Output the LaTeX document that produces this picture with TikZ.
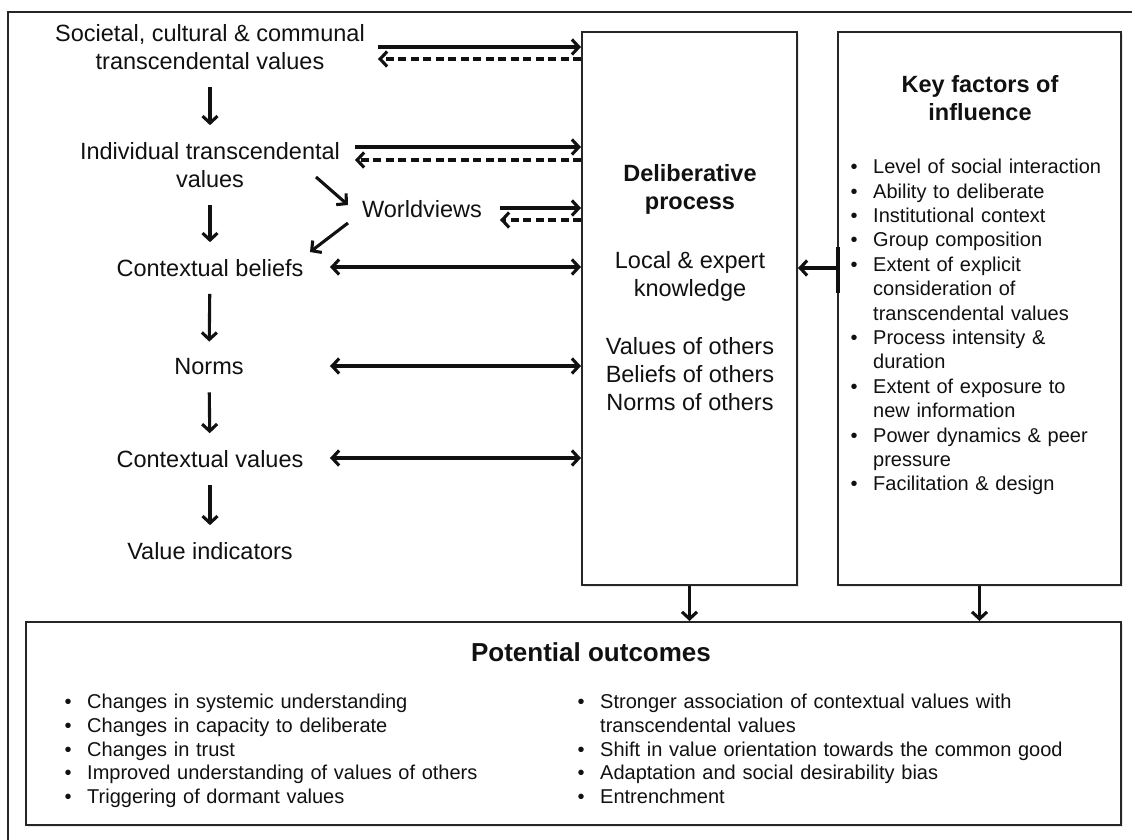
\documentclass[tikz,border=0pt]{standalone}
\usepackage{fontspec}
\setmainfont{Liberation Sans}
\usepackage{enumitem}
\usetikzlibrary{arrows.meta,shadows}

\setlist[itemize]{label=\textbullet, leftmargin=22pt, labelsep=15.5pt, itemsep=0pt, topsep=0pt, parsep=0pt, partopsep=0pt}

\definecolor{ink}{HTML}{111111}
\definecolor{edge}{HTML}{262626}

\newcommand{\bigtxt}{\fontsize{23.5}{28}\selectfont}
\newcommand{\keytxt}{\fontsize{20}{24.4}\selectfont}
\newcommand{\outtxt}{\fontsize{20}{23.6}\selectfont}

\tikzset{
  barb/.tip={Straight Barb[length=7pt,width=15pt]},
  box/.style={draw=edge, line width=2pt, fill=white, drop shadow={shadow xshift=2pt, shadow yshift=-2pt, opacity=0.18}},
  lbl/.style={font=\bigtxt, text=ink, align=center, inner sep=0pt},
  flow/.style={draw=ink, line width=3.1pt, -barb},
  twoway/.style={draw=ink, line width=3.1pt, barb-barb},
  feedback/.style={flow, dash pattern=on 8pt off 4.5pt},
  down/.style={flow, shorten <=17pt, shorten >=17pt},
  factors/.style={font=\keytxt, text=ink, align=left, inner sep=0pt, anchor=north west}
}

\begin{document}
\begin{tikzpicture}[x=1pt, y=-1pt]
\useasboundingbox (0,0) rectangle (1132,839);
\draw[draw=edge, line width=2pt, fill=white, drop shadow={shadow xshift=2pt, shadow yshift=-2pt, opacity=0.18}] (8,12) rectangle (1160,860);

% boxes
\node[box, minimum width=215pt, minimum height=553pt] (delib) at (689.5,308.5) {};
\node[box, minimum width=283pt, minimum height=553pt] (key) at (979.5,308.5) {};
\node[box, minimum width=1095pt, minimum height=203pt] (outc) at (573.5,723.5) {};

% left column
\node[lbl] (soc) at (210,47) {Societal, cultural \& communal\\transcendental values};
\node[lbl] (indiv) at (210,165) {Individual transcendental\\values};
\node[lbl] (world) at (422,209) {Worldviews};
\node[lbl] (cbel) at (210,268) {Contextual beliefs};
\node[lbl] (norms) at (209,367) {Norms};
\node[lbl] (cval) at (210,459) {Contextual values};
\node[lbl] (vind) at (210,551) {Value indicators};

\draw[down] (soc) -- (indiv);
\draw[down] (indiv) -- (cbel);
\draw[down] (cbel) -- (norms);
\draw[down] (norms) -- (cval);
\draw[down] (cval) -- (vind);

\coordinate (dgA) at (316,177);
\coordinate (dgB) at (348,205);
\coordinate (dgC) at (348,223);
\coordinate (dgD) at (310,252);
\draw[flow] (dgA) -- (dgB);
\draw[flow] (dgC) -- (dgD);

% links to the deliberative process
\coordinate (sA) at (378,47);
\coordinate (sB) at (378,59);
\coordinate (iA) at (355,147);
\coordinate (iB) at (355,160);
\coordinate (wA) at (500,208);
\coordinate (wB) at (500,220);
\draw[flow] (sA) -- (sA -| delib.west);
\draw[feedback] (sB -| delib.west) -- (sB);
\draw[flow] (iA) -- (iA -| delib.west);
\draw[feedback] (iB -| delib.west) -- (iB);
\draw[flow] (wA) -- (wA -| delib.west);
\draw[feedback] (wB -| delib.west) -- (wB);

\coordinate (cbA) at (330,267);
\coordinate (nA) at (330,366);
\coordinate (cvA) at (330,458);
\draw[twoway] (cbA) -- (cbA -| delib.west);
\draw[twoway] (nA) -- (nA -| delib.west);
\draw[twoway] (cvA) -- (cvA -| delib.west);

% deliberative process
\node[lbl, font=\bigtxt\bfseries] (delibT) at (690,189) {Deliberative\\process};
\node[lbl] (delibK) at (690,276) {Local \& expert\\knowledge};
\node[lbl] (delibO) at (690,374) {Values of others\\Beliefs of others\\Norms of others};

% key factors
\node[lbl, font=\bigtxt\bfseries] (keyT) at (980,98) {Key factors of\\influence};
\node[factors, text width=265pt] (keyL) at (851,149) {%
\begin{itemize}
\item Level of social interaction
\item Ability to deliberate
\item Institutional context
\item Group composition
\item Extent of explicit\\ consideration of\\ transcendental values
\item Process intensity \&\\ duration
\item Extent of exposure to\\ new information
\item Power dynamics \& peer\\ pressure
\item Facilitation \& design
\end{itemize}};
\coordinate (kA) at (838,268);
\draw[draw=ink, line width=3.1pt] ([yshift=21pt]kA) -- ([yshift=-25pt]kA);
\draw[flow] (kA) -- (kA -| delib.east);

\draw[flow] (delib.south) -- (delib.south |- outc.north);
\draw[flow] (key.south) -- (key.south |- outc.north);

% outcomes
\node[lbl, font=\fontsize{26}{30}\selectfont\bfseries] (outT) at (591,652) {Potential outcomes};
\node[factors, font=\outtxt, text width=440pt] (outL) at (65,685) {%
\begin{itemize}
\item Changes in systemic understanding
\item Changes in capacity to deliberate
\item Changes in trust
\item Improved understanding of values of others
\item Triggering of dormant values
\end{itemize}};
\node[factors, font=\outtxt, text width=500pt] (outR) at (578,685) {%
\begin{itemize}
\item Stronger association of contextual values with\\ transcendental values
\item Shift in value orientation towards the common good
\item Adaptation and social desirability bias
\item Entrenchment
\end{itemize}};
\end{tikzpicture}
\end{document}
